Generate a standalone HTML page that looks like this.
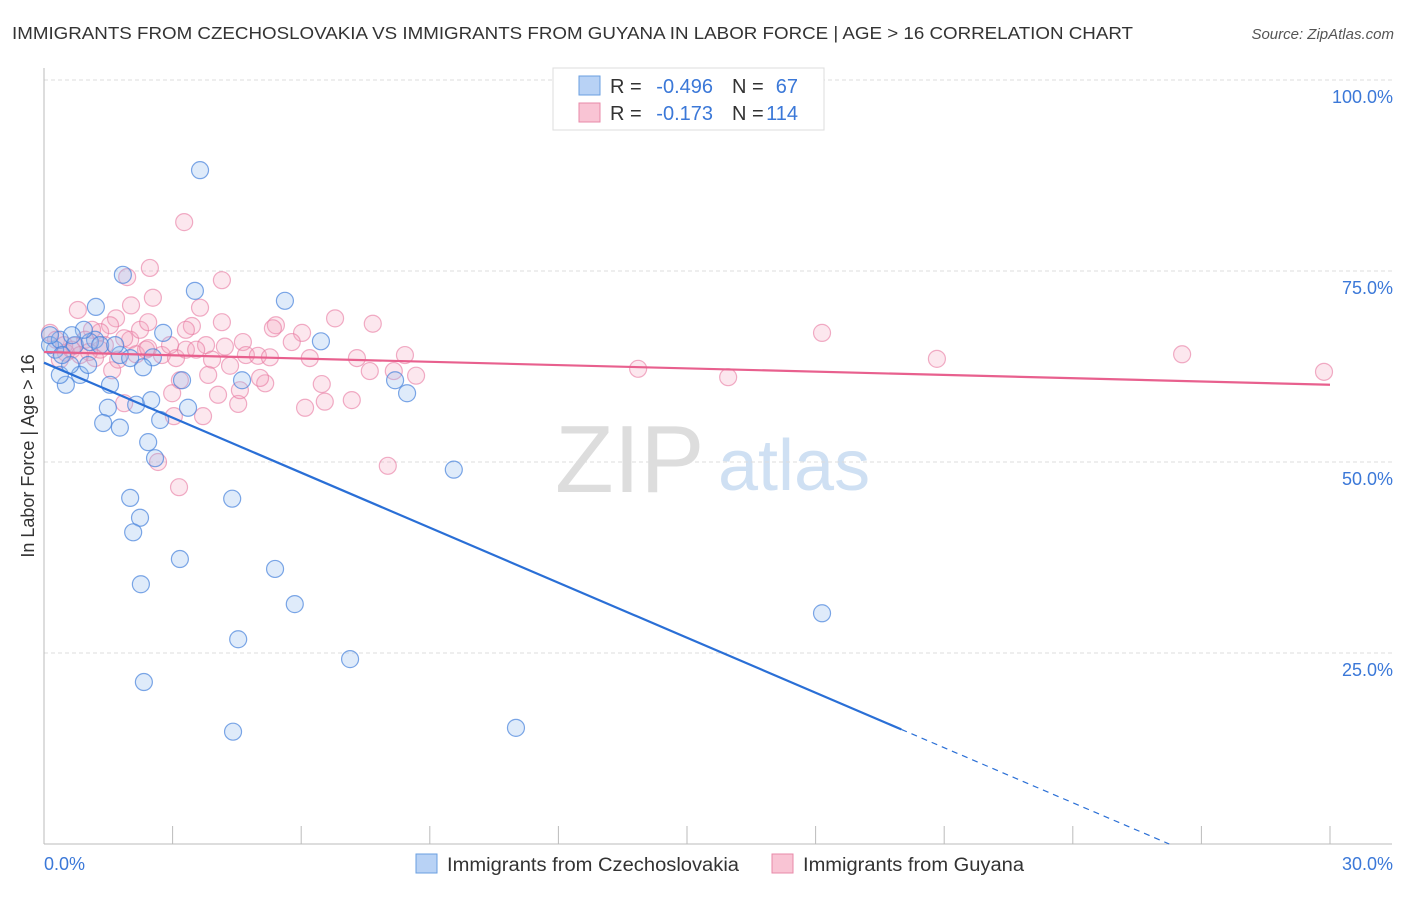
<!DOCTYPE html>
<html><head><meta charset="utf-8">
<style>
body{margin:0;background:#fff;font-family:"Liberation Sans",sans-serif;}
svg text{font-family:"Liberation Sans",sans-serif;}
</style></head>
<body>
<svg id="chart" width="1406" height="892" viewBox="0 0 1406 892" xmlns="http://www.w3.org/2000/svg">
<text x="12" y="39" font-size="17.5" fill="#333" textLength="1121" lengthAdjust="spacingAndGlyphs">IMMIGRANTS FROM CZECHOSLOVAKIA VS IMMIGRANTS FROM GUYANA IN LABOR FORCE | AGE &gt; 16 CORRELATION CHART</text>
<text x="1394" y="39" font-size="15" fill="#555" font-style="italic" text-anchor="end">Source: ZipAtlas.com</text>
<g>
<text x="555" y="492" font-size="96" fill="#ddd" font-family="Liberation Serif">ZIP</text>
<text x="718" y="490" font-size="72" fill="#cfe0f3">atlas</text>
</g>
<g id="grid"></g>
<g id="axes"></g>
<g id="pink"></g>
<g id="blue"></g>
<g id="lines"></g>
<text transform="translate(34,456) rotate(-90)" font-size="18" fill="#333" text-anchor="middle">In Labor Force | Age &gt; 16</text>
<g>
<rect x="553" y="68" width="271" height="62" fill="#fff" stroke="#ddd"/>
<rect x="579" y="76" width="21" height="19" fill="#b8d2f5" stroke="#6a9fe0"/>
<rect x="579" y="103" width="21" height="19" fill="#f9c4d4" stroke="#e88aa8"/>
<text x="610" y="93" font-size="20" fill="#333">R =</text>
<text x="713" y="93" font-size="20" fill="#3b78d8" text-anchor="end">-0.496</text>
<text x="732" y="93" font-size="20" fill="#333">N =</text>
<text x="798" y="93" font-size="20" fill="#3b78d8" text-anchor="end">67</text>
<text x="610" y="120" font-size="20" fill="#333">R =</text>
<text x="713" y="120" font-size="20" fill="#3b78d8" text-anchor="end">-0.173</text>
<text x="732" y="120" font-size="20" fill="#333">N =</text>
<text x="798" y="120" font-size="20" fill="#3b78d8" text-anchor="end">114</text>
</g>
<g>
<rect x="416" y="854" width="21" height="19" fill="#b8d2f5" stroke="#6a9fe0"/>
<text x="447" y="871" font-size="19" fill="#333" textLength="292" lengthAdjust="spacingAndGlyphs">Immigrants from Czechoslovakia</text>
<rect x="772" y="854" width="21" height="19" fill="#f9c4d4" stroke="#e88aa8"/>
<text x="803" y="871" font-size="19" fill="#333" textLength="221" lengthAdjust="spacingAndGlyphs">Immigrants from Guyana</text>
</g>
</svg>
<script>
const yTicks=[25,50,75,100];
const yTickLabels=["25.0%","50.0%","75.0%","100.0%"];
const xTicks=[0,3,6,9,12,15,18,21,24,27,30];
const blueX=[3.64,1.84,3.52,5.62,1.21,6.46,2.78,3.22,8.19,8.47,2.54,2.31,1.54,0.51,0.37,0.84,1.49,2.15,2.50,1.38,1.77,2.71,3.36,2.43,2.59,9.56,2.01,4.39,2.24,2.08,3.17,5.39,2.26,5.85,4.53,7.14,2.33,4.41,11.01,18.15,4.62,1.19,1.03,0.61,0.26,0.14,0.37,0.72,1.07,1.31,1.77,2.01,0.14,0.42,0.93,1.66,0.65];
const blueY=[88.2,74.5,72.4,71.1,70.3,65.8,66.9,60.7,60.7,59.0,63.7,62.4,60.1,60.1,61.4,61.4,57.1,57.5,58.1,55.1,54.5,55.5,57.1,52.6,50.5,49.0,45.3,45.2,42.7,40.8,37.3,36.0,34.0,31.4,26.8,24.2,21.2,14.7,15.2,30.2,60.7,66.0,62.7,62.7,64.7,65.3,66.0,65.3,65.7,65.3,64.0,63.6,66.6,64.0,67.3,65.3,66.6];
const pinkX=[3.27,2.47,1.94,4.15,2.54,2.03,3.64,0.79,6.79,7.67,4.15,3.45,3.31,5.41,6.02,5.34,4.64,18.15,20.83,26.55,29.86,13.86,15.96,8.68,8.16,7.30,7.60,8.42,5.78,6.20,5.16,6.09,6.55,6.48,7.18,8.02,4.34,3.83,3.17,2.99,4.06,4.53,3.03,3.15,3.71,2.66,1.87,3.78,3.92,4.22,4.71,4.99,5.27,2.01,2.24,2.43,1.68,1.54,1.31,1.12,0.96,0.70,0.51,0.37,1.59,1.73,2.15,2.38,2.75,3.08,3.31,3.55,2.94,2.43,1.31,1.19,1.05,0.14,0.28,0.47,0.65,0.84,1.42,1.87,4.57,5.04];
const pinkY=[81.4,75.4,74.2,73.8,71.5,70.5,70.2,69.9,68.8,68.1,68.3,67.8,67.3,67.9,66.9,67.5,65.7,66.9,63.5,64.1,61.8,62.2,61.1,61.3,61.9,63.6,61.9,64.0,65.7,63.6,60.3,57.1,57.9,60.2,58.1,49.5,62.6,61.4,60.7,59.0,58.8,57.6,56.0,46.7,56.0,50.0,57.7,65.3,63.4,65.1,64.0,63.9,63.7,66.0,67.3,68.3,68.8,67.9,67.0,67.3,66.0,65.2,64.3,63.4,62.0,63.4,64.1,64.7,64.0,63.6,64.7,64.7,65.3,64.9,64.7,63.6,64.4,66.9,66.0,65.3,64.7,64.0,65.3,66.2,59.4,61.0];
const blueTrend=[63.0,-2.4];
const pinkTrend=[64.4,-0.143];
const NS="http://www.w3.org/2000/svg";
const X0=44,X1=1330,Y0=844,Y1=80;
const sx=v=>X0+(v/30)*(X1-X0);
const sy=v=>Y0-(v/100)*(Y0-Y1);
function mk(tag,attrs,parent){const e=document.createElementNS(NS,tag);for(const k in attrs)e.setAttribute(k,attrs[k]);document.getElementById(parent).appendChild(e);return e;}
yTicks.forEach((t,i)=>{
  const l=mk('line',{x1:X0,x2:1392,y1:sy(t),y2:sy(t),stroke:'#ddd','stroke-dasharray':'4,3'},'grid');
  
  
  const tx=mk('text',{x:1393,y:sy(t)+23,'font-size':18,fill:'#3b78d8','text-anchor':'end'},'axes');
  tx.textContent=yTickLabels[i];
  
  
});
const ax=mk('line',{x1:X0,x2:X0,y1:68,y2:Y0,stroke:'#bbb'},'axes');


const bx=mk('line',{x1:X0,x2:1392,y1:Y0,y2:Y0,stroke:'#bbb'},'axes');


xTicks.forEach(t=>{
  const l=mk('line',{x1:sx(t),x2:sx(t),y1:Y0,y2:Y0-18,stroke:'#bbb'},'axes');
  
  
});
const xl0=mk('text',{x:44,y:870,'font-size':18,fill:'#3b78d8'},'axes');xl0.textContent='0.0%';


const xl1=mk('text',{x:1393,y:870,'font-size':18,fill:'#3b78d8','text-anchor':'end'},'axes');xl1.textContent='30.0%';


pinkX.forEach((v,i)=>{
  const c=mk('circle',{cx:sx(v),cy:sy(pinkY[i]),r:8.5,fill:'rgba(244,160,188,0.25)',stroke:'rgba(232,120,160,0.6)','stroke-width':1.2},'pink');
  
  
});
blueX.forEach((v,i)=>{
  const c=mk('circle',{cx:sx(v),cy:sy(blueY[i]),r:8.5,fill:'rgba(150,190,240,0.3)',stroke:'rgba(70,130,220,0.7)','stroke-width':1.2},'blue');
  
  
});
const bf=x=>blueTrend[0]+blueTrend[1]*x;
const pf=x=>pinkTrend[0]+pinkTrend[1]*x;
const xs=20.0,xe=(0-blueTrend[0])/blueTrend[1];
const l1=mk('line',{x1:sx(0),y1:sy(bf(0)),x2:sx(xs),y2:sy(bf(xs)),stroke:'#2a6fd6','stroke-width':2.2},'lines');


const l2=mk('line',{x1:sx(xs),y1:sy(bf(xs)),x2:sx(xe),y2:sy(0),stroke:'#2a6fd6','stroke-width':1.2,'stroke-dasharray':'6,5'},'lines');


const l3=mk('line',{x1:sx(0),y1:sy(pf(0)),x2:sx(30),y2:sy(pf(30)),stroke:'#e8608e','stroke-width':2.2},'lines');


</script>
</body></html>
